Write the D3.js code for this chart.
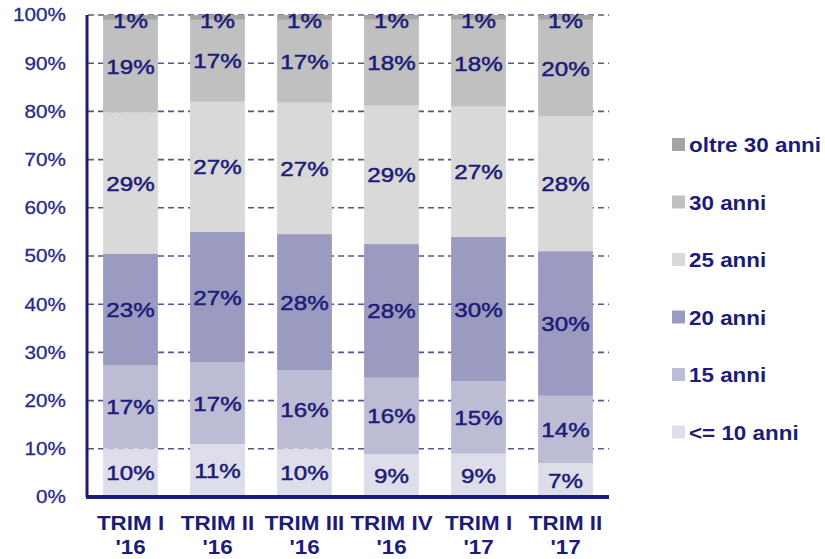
<!DOCTYPE html>
<html>
<head>
<meta charset="utf-8">
<script src="https://cdn.jsdelivr.net/npm/d3@7"></script>
<style>
  html, body { margin: 0; padding: 0; background: #fff; }
  svg { display: block; font-family: "Liberation Sans", Arial, sans-serif; }
</style>
</head>
<body>
<svg id="chart" width="825" height="559"></svg>
<script>
// Quarters on the x axis (two-line labels)
const categories = ["TRIM I\n'16", "TRIM II\n'16", "TRIM III\n'16", "TRIM IV\n'16", "TRIM I\n'17", "TRIM II\n'17"];

// Duration classes, stacked bottom to top
const seriesNames = ["<= 10 anni", "15 anni", "20 anni", "25 anni", "30 anni", "oltre 30 anni"];

// Share of each duration class per quarter (%)
const le10    = [10, 11, 10,  9,  9,  7];
const y15     = [17, 17, 16, 16, 15, 14];
const y20     = [23, 27, 28, 28, 30, 30];
const y25     = [29, 27, 27, 29, 27, 28];
const y30     = [19, 17, 17, 18, 18, 20];
const over30  = [ 1,  1,  1,  1,  1,  1];

const yTicks = [0, 10, 20, 30, 40, 50, 60, 70, 80, 90, 100];

const colors = ["#dedeea", "#bcbcd5", "#9b9bc1", "#d9d9d9", "#c0c0c0", "#a4a4a4"];
const navy = "#1c1c78";
const SX = 1.15; // horizontal stretch of the lettering

const seriesValues = [le10, y15, y20, y25, y30, over30];
const rows = categories.map((c, i) => {
  const r = { cat: c };
  seriesNames.forEach((s, k) => r[s] = seriesValues[k][i]);
  return r;
});

const svg = d3.select("#chart");

const x = d3.scaleBand().domain(categories).range([87, 609]).paddingInner(0.37).paddingOuter(0.185);
const y = d3.scaleLinear().domain([0, 1]).range([497, 15]);

// Normalised stack so each column fills 100%
const stack = d3.stack().keys(seriesNames).offset(d3.stackOffsetExpand);
const layers = stack(rows);

// Places a piece of text at (px, py) with the wide lettering
function wideText(sel, px, py) {
  return sel.attr("x", 0).attr("y", 0)
    .attr("transform", (d, i) => `translate(${px(d, i)},${py(d, i)}) scale(${SX},1)`);
}

// Dashed gridlines
svg.append("g").selectAll("line")
  .data(yTicks.filter(t => t > 0))
  .join("line")
  .attr("x1", 88).attr("x2", 609)
  .attr("y1", d => y(d / 100)).attr("y2", d => y(d / 100))
  .attr("stroke", "#55558f").attr("stroke-width", 1.6)
  .attr("stroke-dasharray", "6,4");

// Bars
const gLayers = svg.append("g").selectAll("g")
  .data(layers).join("g")
  .attr("fill", (d, i) => colors[i]);

gLayers.selectAll("rect")
  .data(d => d.map(p => ({ p, key: d.key })))
  .join("rect")
  .attr("x", d => x(d.p.data.cat))
  .attr("width", x.bandwidth())
  .attr("y", d => y(d.p[1]))
  .attr("height", d => y(d.p[0]) - y(d.p[1]));

// Value labels centred in each segment
const vl = svg.append("g").selectAll("g")
  .data(layers).join("g")
  .selectAll("text")
  .data(d => d.map(p => ({ p, key: d.key })))
  .join("text")
  .attr("dy", "0.36em")
  .attr("text-anchor", "middle")
  .attr("font-size", 21)
  .attr("fill", navy)
  .attr("stroke", navy).attr("stroke-width", 0.5)
  .text(d => d.p.data[d.key] + "%");
wideText(vl,
  d => x(d.p.data.cat) + x.bandwidth() / 2,
  d => (y(d.p[0]) + y(d.p[1])) / 2 + (d.key === "oltre 30 anni" ? 3 : 0));

// Y axis line and tick labels
svg.append("path")
  .attr("d", "M87,15V497")
  .attr("stroke", navy).attr("stroke-width", 3).attr("fill", "none");

const yl = svg.append("g").selectAll("text")
  .data(yTicks).join("text")
  .attr("text-anchor", "end")
  .attr("dy", "0.36em")
  .attr("font-size", 18)
  .attr("fill", "#2a2a88")
  .attr("stroke", "#2a2a88").attr("stroke-width", 0.3)
  .text(d => d + "%");
wideText(yl, () => 66, d => y(d / 100));

// X axis
const xAxis = d3.axisBottom(x).tickSize(0).tickFormat("");
const gx = svg.append("g").attr("transform", "translate(0,497)").call(xAxis);
gx.select(".domain").attr("stroke", navy).attr("stroke-width", 4).attr("d", "M86,0H609");

const xLines = [];
categories.forEach(c => c.split("\n").forEach((t, i) => xLines.push({ c, t, i })));
const xl = svg.append("g").selectAll("text")
  .data(xLines).join("text")
  .attr("text-anchor", "middle")
  .attr("dy", "0.36em")
  .attr("font-size", 19.5).attr("font-weight", "bold")
  .attr("fill", navy)
  .text(d => d.t);
wideText(xl, d => x(d.c) + x.bandwidth() / 2, d => 523 + d.i * 24);

// Legend, top entry is the top of the stack
const legendOrder = seriesNames.slice().reverse();
const lg = svg.append("g").selectAll("g")
  .data(legendOrder).join("g")
  .attr("transform", (d, i) => `translate(672,${145 + i * 57.5})`);
lg.append("rect")
  .attr("x", 0).attr("y", -7).attr("width", 13).attr("height", 13)
  .attr("fill", d => colors[seriesNames.indexOf(d)]);
lg.append("text")
  .attr("x", 0).attr("dy", "0.36em")
  .attr("transform", `translate(17,0) scale(${SX},1)`)
  .attr("font-size", 19.5).attr("font-weight", "bold")
  .attr("fill", navy)
  .text(d => d);
</script>
</body>
</html>
